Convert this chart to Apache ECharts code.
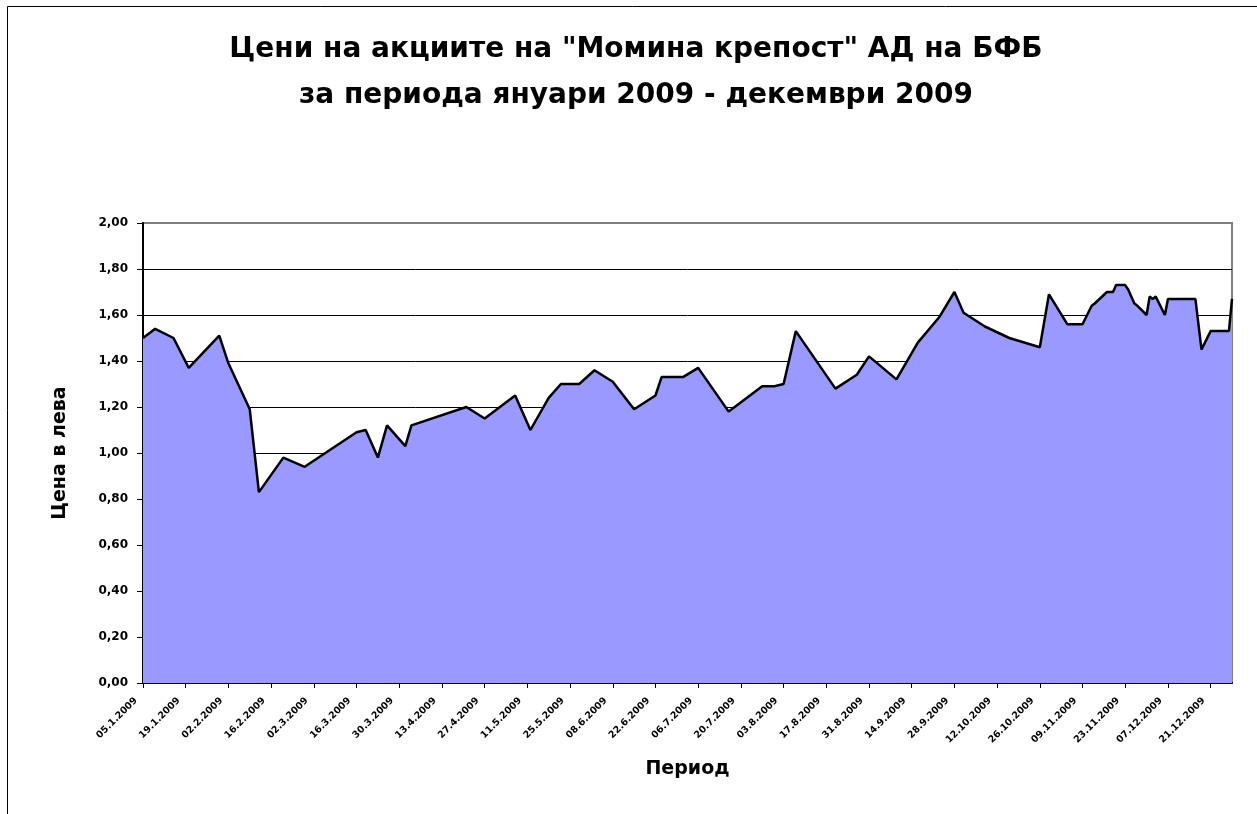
<!DOCTYPE html>
<html>
<head>
<meta charset="utf-8">
<script src="https://cdn.jsdelivr.net/npm/echarts@6/dist/echarts.min.js"></script>
<style>
  html, body { margin: 0; padding: 0; background: #fff; }
  #chart { width: 1257px; height: 814px; }
</style>
</head>
<body>
<div id="chart"></div>
<script>
// дати на сделките (дд.мм.2009) и цени в лева
const tradeDates = ['05.01','09.01','15.01','20.01','30.01','02.02','09.02','12.02','20.02','27.02',
    '16.03','19.03','23.03','26.03','01.04','03.04','21.04','27.04','07.05','12.05',
    '18.05','22.05','28.05','02.06','08.06','15.06','22.06','24.06','01.07','06.07',
    '16.07','27.07','31.07','03.08','07.08','20.08','27.08','31.08','09.09','16.09',
    '23.09','28.09','01.10','08.10','16.10','26.10','29.10','04.11','09.11','12.11',
    '13.11','17.11','19.11','20.11','23.11','24.11','26.11','27.11','30.11','01.12',
    '02.12','03.12','06.12','07.12','16.12','18.12','21.12','27.12','28.12'];
const prices = [1.50,1.54,1.50,1.37,1.51,1.39,1.19,0.83,0.98,0.94,
    1.09,1.10,0.98,1.12,1.03,1.12,1.20,1.15,1.25,1.10,
    1.24,1.30,1.30,1.36,1.31,1.19,1.25,1.33,1.33,1.37,
    1.18,1.29,1.29,1.30,1.53,1.28,1.34,1.42,1.32,1.48,
    1.59,1.70,1.61,1.55,1.50,1.46,1.69,1.56,1.56,1.64,
    1.65,1.70,1.70,1.73,1.73,1.71,1.65,1.64,1.60,1.68,
    1.67,1.68,1.60,1.67,1.67,1.45,1.53,1.53,1.67];

const startDate = '05.01';   // първи етикет по оста
const endDate = '28.12';     // край на оста
const tickDays = 14;         // етикет на всеки две седмици
const yTicks = [0, 2, 0.2];  // min, max, стъпка

const DAY = 24 * 3600 * 1000;
function toTime(s) {
    const p = s.split('.');
    return Date.UTC(2009, +p[1] - 1, +p[0]);
}
const t0 = toTime(startDate);
function dayIndex(s) { return Math.round((toTime(s) - t0) / DAY); }

const seriesData = tradeDates.map((d, i) => [dayIndex(d), prices[i]]);

function dayLabel(v) {
    if (v % tickDays !== 0) return '';
    const dt = new Date(t0 + v * DAY);
    const dd = String(dt.getUTCDate()).padStart(2, '0');
    return dd + '.' + (dt.getUTCMonth() + 1) + '.' + dt.getUTCFullYear();
}

const FONT = '"DejaVu Sans", Arial, sans-serif';

const chart = echarts.init(document.getElementById('chart'), null, { renderer: 'canvas' });

chart.setOption({
    backgroundColor: '#fff',
    animation: false,
    graphic: [
        {
            type: 'rect',
            shape: { x: 7.5, y: 6.5, width: 1300, height: 900 },
            style: { fill: null, stroke: '#000', lineWidth: 1 },
            silent: true
        },
        {
            type: 'text',
            x: 636, y: 50,
            style: {
                text: 'Цени на акциите на "Момина крепост" АД на БФБ',
                font: 'bold 28px ' + FONT, fill: '#000',
                align: 'center', verticalAlign: 'middle'
            }
        },
        {
            type: 'text',
            x: 636, y: 96,
            style: {
                text: 'за периода януари 2009 - декември 2009',
                font: 'bold 28px ' + FONT, fill: '#000',
                align: 'center', verticalAlign: 'middle'
            }
        }
    ],
    grid: {
        left: 143, right: 25, top: 223, bottom: 131,
        show: true, borderColor: '#808080', borderWidth: 2,
        backgroundColor: '#fff'
    },
    xAxis: {
        type: 'value',
        min: 0,
        max: dayIndex(endDate),
        interval: tickDays,
        name: 'Период',
        nameLocation: 'middle',
        nameGap: 77,
        nameTextStyle: { fontFamily: FONT, fontWeight: 'bold', fontSize: 19, color: '#000' },
        axisLine: { lineStyle: { color: '#000', width: 2 } },
        axisTick: { show: true, length: 5, lineStyle: { color: '#000' } },
        axisLabel: {
            rotate: 45,
            margin: 9,
            padding: [0, 10, 0, 0],
            showMaxLabel: false,
            fontFamily: FONT, fontWeight: 'bold', fontSize: 9.5, color: '#000',
            formatter: dayLabel
        },
        splitLine: { show: false }
    },
    yAxis: {
        type: 'value',
        min: yTicks[0],
        max: yTicks[1],
        interval: yTicks[2],
        name: 'Цена в лева',
        nameLocation: 'middle',
        nameGap: 73,
        nameTextStyle: { fontFamily: FONT, fontWeight: 'bold', fontSize: 19, color: '#000' },
        axisLine: { show: true, lineStyle: { color: '#000', width: 2 } },
        axisTick: { show: true, length: 6, lineStyle: { color: '#000' } },
        axisLabel: {
            margin: 15,
            fontFamily: FONT, fontWeight: 'bold', fontSize: 12, color: '#000',
            formatter: v => v.toFixed(2).replace('.', ',')
        },
        splitLine: { show: true, showMaxLine: false, lineStyle: { color: '#000', width: 1 } }
    },
    series: [
        {
            type: 'line',
            data: seriesData,
            symbol: 'none',
            lineStyle: { color: '#000', width: 2.5 },
            areaStyle: { color: '#9999FF', opacity: 1 },
            z: 3
        }
    ]
});
</script>
</body>
</html>
